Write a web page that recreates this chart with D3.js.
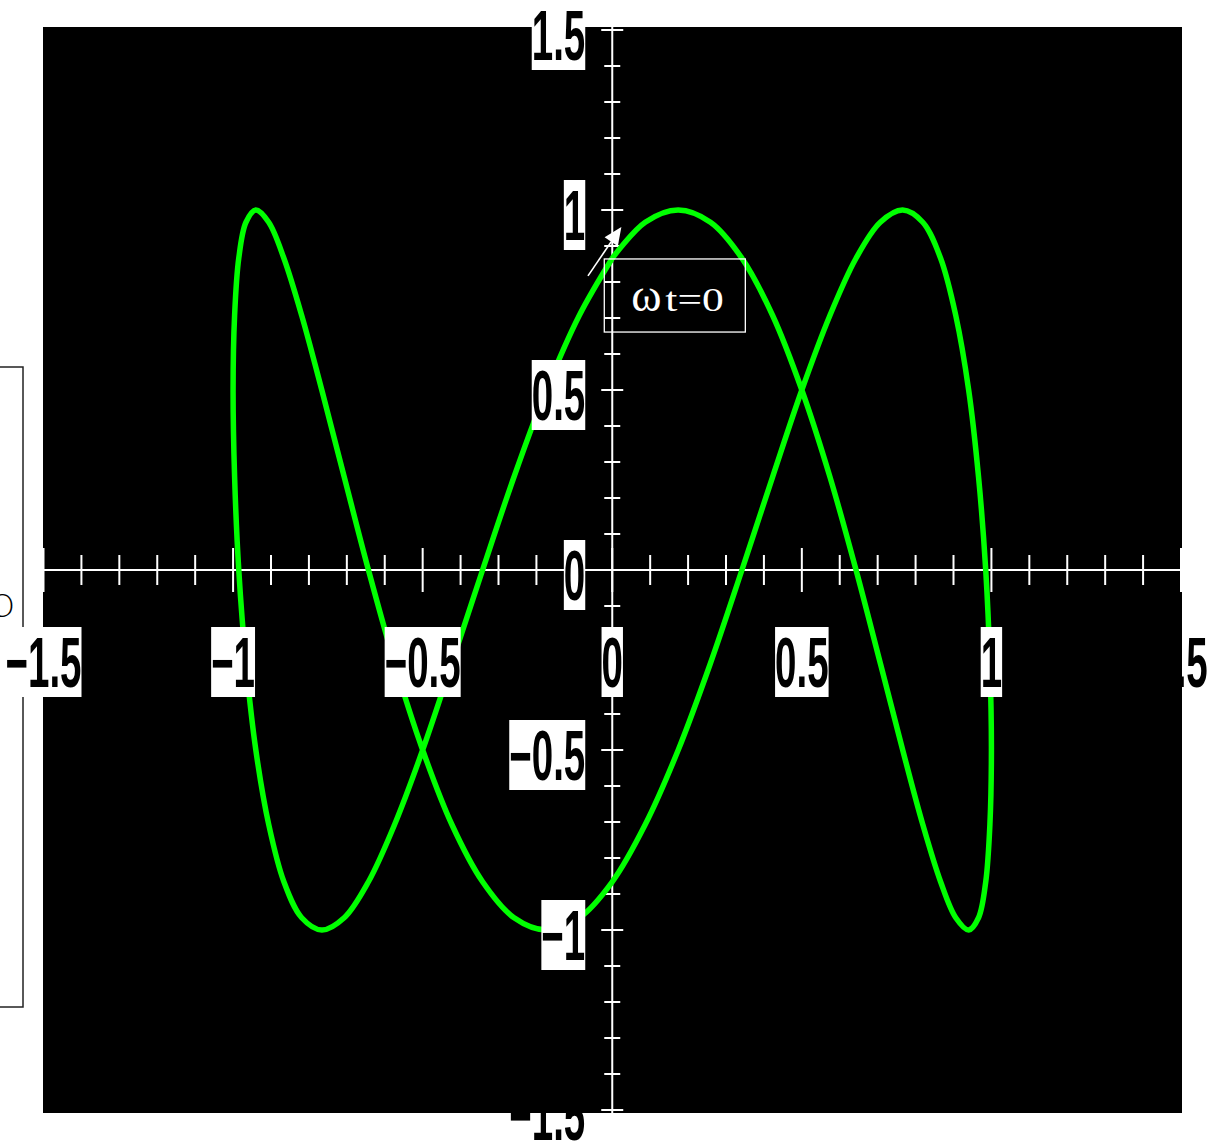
<!DOCTYPE html>
<html lang="en">
<head>
    <meta charset="UTF-8">
    <title>Lissajous figure</title>
    <style>
        body { margin: 0; background: #fff; }
        svg { display: block; }
    </style>
</head>
<body>
    <div id="chart"></div>
    <script src="https://cdn.jsdelivr.net/npm/d3@7/dist/d3.min.js"></script>
    <script>
        const w = 1207;
        const h = 1143;

        // curve points (x, y pairs in axis units)
        const curveX = [0, 0.087, 0.174, 0.259, 0.342, 0.423, 0.5, 0.574, 0.643, 0.707, 0.766, 0.819,
            0.866, 0.906, 0.940, 0.966, 0.985, 0.996, 1, 0.996, 0.985, 0.966, 0.940, 0.906,
            0.866, 0.819, 0.766, 0.707, 0.643, 0.574, 0.5, 0.423, 0.342, 0.259, 0.174, 0.087,
            0, -0.087, -0.174, -0.259, -0.342, -0.423, -0.5, -0.574, -0.643, -0.707, -0.766, -0.819,
            -0.866, -0.906, -0.940, -0.966, -0.985, -0.996, -1, -0.996, -0.985, -0.966, -0.940, -0.906,
            -0.866, -0.819, -0.766, -0.707, -0.643, -0.574, -0.5, -0.423, -0.342, -0.259, -0.174, -0.087, 0];
        const curveY = [0.866, 0.966, 1, 0.966, 0.866, 0.707, 0.5, 0.259, 0, -0.259, -0.5, -0.707,
            -0.866, -0.966, -1, -0.966, -0.866, -0.707, -0.5, -0.259, 0, 0.259, 0.5, 0.707,
            0.866, 0.966, 1, 0.966, 0.866, 0.707, 0.5, 0.259, 0, -0.259, -0.5, -0.707,
            -0.866, -0.966, -1, -0.966, -0.866, -0.707, -0.5, -0.259, 0, 0.259, 0.5, 0.707,
            0.866, 0.966, 1, 0.966, 0.866, 0.707, 0.5, 0.259, 0, -0.259, -0.5, -0.707,
            -0.866, -0.966, -1, -0.966, -0.866, -0.707, -0.5, -0.259, 0, 0.259, 0.5, 0.707, 0.866];

        const xLabels = [-1.5, -1, -0.5, 0, 0.5, 1, 1.5];
        const yLabels = [-1.5, -1, -0.5, 0, 0.5, 1, 1.5];
        const minorTicks = d3.range(-15, 16).map(i => i / 10);

        // annotation "ωt=0": arrow tail/tip and box corners, in axis units
        const arrowFrom = [-0.064, 0.817];
        const arrowTo = [0.024, 0.953];
        const noteBox = [[-0.021, 0.864], [0.351, 0.661]];

        const x = d3.scaleLinear().domain([-1.5, 1.5]).range([43.5, 1181]);
        const y = d3.scaleLinear().domain([-1.5, 1.5]).range([1110, 30]);
        const fmt = d3.format('~g');

        const SX = 0.55; // horizontal squeeze of the tall axis digits

        const svg = d3.select('#chart')
            .append('svg')
            .attr('width', w)
            .attr('height', h);

        // white-boxed tick label, centre of the digits at (cx, cy)
        function tickLabel(parent, v, cx, cy, anchor) {
            const g = parent.append('g').attr('transform', `translate(${cx},${cy})`);
            const box = g.append('rect').attr('fill', '#fff');
            const t = g.append('text')
                .attr('transform', `scale(${SX},1)`)
                .attr('text-anchor', anchor)
                .attr('dy', '0.358em')
                .style('font-family', '"Liberation Sans", Arial, sans-serif')
                .style('font-weight', 'bold')
                .style('font-size', '70px')
                .attr('fill', '#000')
                .text(fmt(v));
            const bb = t.node().getBBox();
            box.attr('x', bb.x * SX).attr('width', bb.width * SX)
                .attr('y', -35).attr('height', 70);
        }

        // labels at the far ends sit under the black panel
        const under = svg.append('g');
        tickLabel(under, 1.5, x(1.5), y(0) + 92, 'middle');
        tickLabel(under, -1.5, x(0) - 27, y(-1.5) + 5, 'end');

        // black panel
        svg.append('rect')
            .attr('x', x(-1.5) - 0.5)
            .attr('y', y(1.5) - 3)
            .attr('width', x(1.5) - x(-1.5) + 1.5)
            .attr('height', y(-1.5) - y(1.5) + 6)
            .attr('fill', '#000');

        // clipped box at the left edge
        svg.append('rect')
            .attr('x', -2).attr('y', 367)
            .attr('width', 25).attr('height', 640)
            .attr('fill', '#fff').attr('stroke', '#222').attr('stroke-width', 1.5);
        svg.append('text')
            .attr('x', 15).attr('y', 617)
            .attr('text-anchor', 'end')
            .style('font-family', '"DejaVu Sans", sans-serif')
            .style('font-weight', 200)
            .style('font-size', '32px')
            .attr('fill', '#000')
            .text('O');

        // axes through the origin
        const axes = svg.append('g').attr('stroke', '#fff').attr('stroke-width', 2);
        axes.append('line')
            .attr('x1', x(-1.5) - 0.5).attr('x2', x(1.5) + 1)
            .attr('y1', y(0)).attr('y2', y(0));
        axes.append('line')
            .attr('x1', x(0)).attr('x2', x(0))
            .attr('y1', y(1.5) - 3).attr('y2', y(-1.5) + 3);

        const isMajor = v => Math.abs(Math.round(v * 10)) % 5 === 0;
        axes.selectAll('line.xt')
            .data(minorTicks)
            .enter()
            .append('line')
            .attr('class', 'xt')
            .attr('x1', d => x(d)).attr('x2', d => x(d))
            .attr('y1', d => y(0) - (isMajor(d) ? 22 : 15))
            .attr('y2', d => y(0) + (isMajor(d) ? 22 : 15));
        axes.selectAll('line.yt')
            .data(minorTicks)
            .enter()
            .append('line')
            .attr('class', 'yt')
            .attr('y1', d => y(d)).attr('y2', d => y(d))
            .attr('x1', d => x(0) - (isMajor(d) ? 11 : 8))
            .attr('x2', d => x(0) + (isMajor(d) ? 11 : 8));

        // the curve
        const line = d3.line()
            .x(d => x(d[0]))
            .y(d => y(d[1]))
            .curve(d3.curveCatmullRom);
        svg.append('path')
            .datum(curveX.map((v, i) => [v, curveY[i]]))
            .attr('d', line)
            .attr('fill', 'none')
            .attr('stroke', '#00ff00')
            .attr('stroke-width', 5.5)
            .attr('stroke-linejoin', 'round');

        // tick labels on top
        const labels = svg.append('g');
        xLabels.filter(v => v !== 1.5).forEach(v => tickLabel(labels, v, x(v), y(0) + 92, 'middle'));
        yLabels.filter(v => v !== -1.5).forEach(v => tickLabel(labels, v, x(0) - 27, y(v) + 5, 'end'));

        // annotation
        const note = svg.append('g');
        note.append('rect')
            .attr('x', x(noteBox[0][0])).attr('y', y(noteBox[0][1]))
            .attr('width', x(noteBox[1][0]) - x(noteBox[0][0]))
            .attr('height', y(noteBox[1][1]) - y(noteBox[0][1]))
            .attr('fill', 'none').attr('stroke', '#fff').attr('stroke-width', 1.3);

        const ax0 = x(arrowFrom[0]), ay0 = y(arrowFrom[1]);
        const ax1 = x(arrowTo[0]), ay1 = y(arrowTo[1]);
        const len = Math.hypot(ax1 - ax0, ay1 - ay0);
        const ux = (ax1 - ax0) / len, uy = (ay1 - ay0) / len;
        const bx = ax1 - 18 * ux, by = ay1 - 18 * uy;
        note.append('line')
            .attr('x1', ax0).attr('y1', ay0).attr('x2', bx).attr('y2', by)
            .attr('stroke', '#fff').attr('stroke-width', 1.6);
        note.append('path')
            .attr('d', `M${ax1},${ay1}L${bx - 8 * uy},${by + 8 * ux}L${bx + 8 * uy},${by - 8 * ux}Z`)
            .attr('fill', '#fff');

        const tx = x(noteBox[0][0]) + 27;
        const ty = y(noteBox[1][1]) - 21;
        note.append('text')
            .attr('x', tx).attr('y', ty)
            .style('font-family', '"Liberation Serif", serif')
            .style('font-size', '46px')
            .attr('fill', '#fff')
            .text('ω');
        note.append('text')
            .attr('transform', `translate(${tx + 34},${ty}) scale(1.32,1)`)
            .style('font-family', '"Liberation Serif", serif')
            .style('font-size', '33px')
            .attr('fill', '#fff')
            .text('t=0');
    </script>
</body>
</html>
